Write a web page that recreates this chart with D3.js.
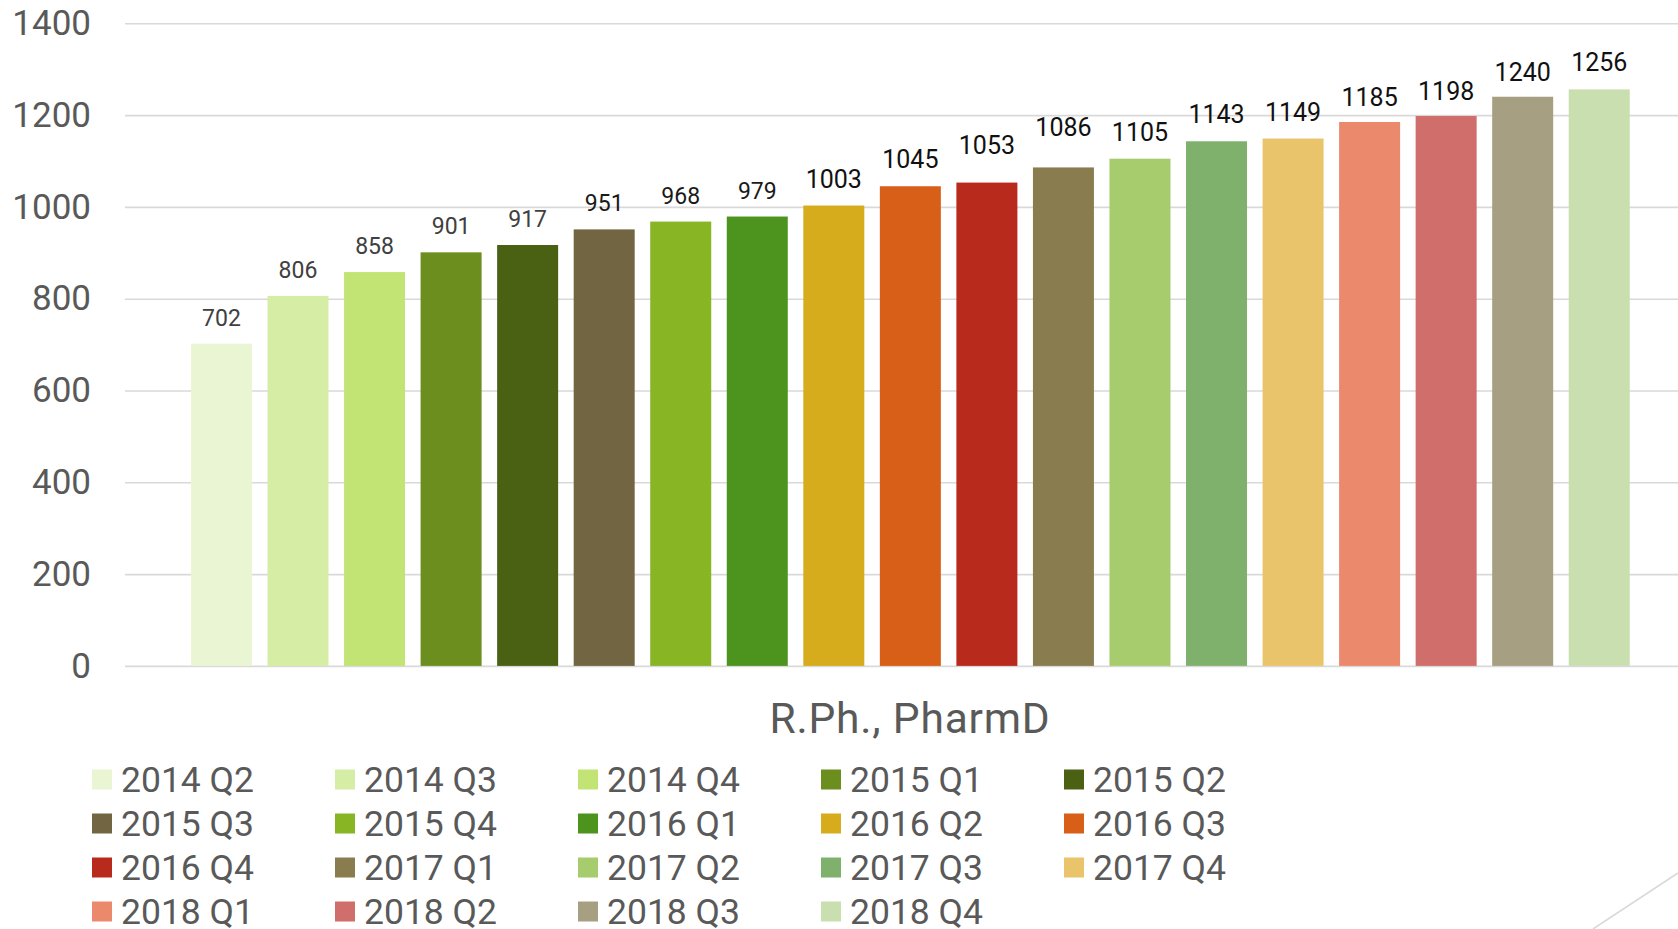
<!DOCTYPE html>
<html>
<head>
<meta charset="utf-8">
<script src="https://cdn.jsdelivr.net/npm/d3@7"></script>
<style>
  html, body { margin: 0; padding: 0; background: #ffffff; }
  svg { display: block; }
</style>
</head>
<body>
<svg id="chart" width="1678" height="929"></svg>
<script>
// ---- data ----
const categories = ["2014 Q2","2014 Q3","2014 Q4","2015 Q1","2015 Q2","2015 Q3","2015 Q4",
  "2016 Q1","2016 Q2","2016 Q3","2016 Q4","2017 Q1","2017 Q2","2017 Q3","2017 Q4",
  "2018 Q1","2018 Q2","2018 Q3","2018 Q4"];
const values = [702, 806, 858, 901, 917, 951, 968, 979, 1003, 1045, 1053, 1086, 1105, 1143, 1149, 1185, 1198, 1240, 1256];
const colors = ["#E9F5D3","#D5EDA5","#C1E475","#6B8E1F","#4A6114","#716641","#87B524",
  "#4D941E","#D6AC1C","#D85F17","#B82B1C","#897D50","#A7CC6E","#7FB16D","#EAC46B",
  "#EB896D","#CF6E6A","#A69F81","#C9DFAF"];
const yTicks = [0, 200, 400, 600, 800, 1000, 1200, 1400];
const axisTitle = "R.Ph., PharmD";

// ---- layout ----
const W = 1678, H = 929;
const svg = d3.select("#chart");
const font = "Roboto, 'Liberation Sans', sans-serif";

// label position nudges (layout only; some labels in the original were dragged)
const labelNudge = { 10: -11, 11: -13, 15: 2, 16: 2, 17: 2 };

const y = d3.scaleLinear().domain([0, 1400]).range([665.9, 23.3]);
const x = d3.scaleBand().domain(categories).range([183.2, 1637.5])
  .paddingInner(0.203).paddingOuter(0.1015);

const gridLeft = 125;

// gridlines + tick labels
const yAxis = d3.axisLeft(y).tickValues(yTicks).tickSize(-(W - gridLeft)).tickPadding(34).tickFormat(d3.format("d"));
const gy = svg.append("g").attr("transform", `translate(${gridLeft},0)`).call(yAxis);
gy.select(".domain").remove();
gy.selectAll(".tick line").attr("stroke", "#d9d9d9").attr("stroke-width", 1.6);
gy.selectAll(".tick text")
  .attr("fill", "#595959")
  .style("font-family", font)
  .style("font-size", "35px");

// bars
svg.append("g").selectAll("rect").data(values).join("rect")
  .attr("x", (d, i) => x(categories[i]))
  .attr("y", d => y(d))
  .attr("width", x.bandwidth())
  .attr("height", d => y(0) - y(d))
  .attr("fill", (d, i) => colors[i]);

// data labels
svg.append("g").selectAll("text").data(values).join("text")
  .attr("x", (d, i) => x(categories[i]) + x.bandwidth() / 2)
  .attr("y", (d, i) => y(d) - 18 + (labelNudge[i] || 0))
  .attr("text-anchor", "middle")
  .style("font-family", font)
  .style("font-size", d => d >= 1000 ? "25px" : "23px")
  .attr("fill", (d, i) => i < 5 ? "#404040" : (i < 8 ? "#1a1a1a" : "#111111"))
  .text(d => d);

// axis title
svg.append("text")
  .attr("x", 910).attr("y", 733)
  .attr("text-anchor", "middle")
  .attr("fill", "#595959")
  .style("font-family", font)
  .style("font-size", "42.5px")
  .style("letter-spacing", "0.8px")
  .text(axisTitle);

// legend
const legCols = 5, legX0 = 92, legDX = 243, legY0 = 769.5, legDY = 44;
const leg = svg.append("g").selectAll("g").data(categories).join("g")
  .attr("transform", (d, i) => `translate(${legX0 + (i % legCols) * legDX},${legY0 + Math.floor(i / legCols) * legDY})`);
leg.append("rect").attr("width", 20).attr("height", 20).attr("fill", (d, i) => colors[i]);
leg.append("text")
  .attr("x", 29).attr("y", 22)
  .attr("fill", "#595959")
  .style("font-family", font)
  .style("font-size", "35.5px")
  .text(d => d);

// slide decoration line (bottom right)
svg.append("line")
  .attr("x1", 1678).attr("y1", 873)
  .attr("x2", 1593).attr("y2", 929)
  .attr("stroke", "#d9d9d9").attr("stroke-width", 1.6);
</script>
</body>
</html>
